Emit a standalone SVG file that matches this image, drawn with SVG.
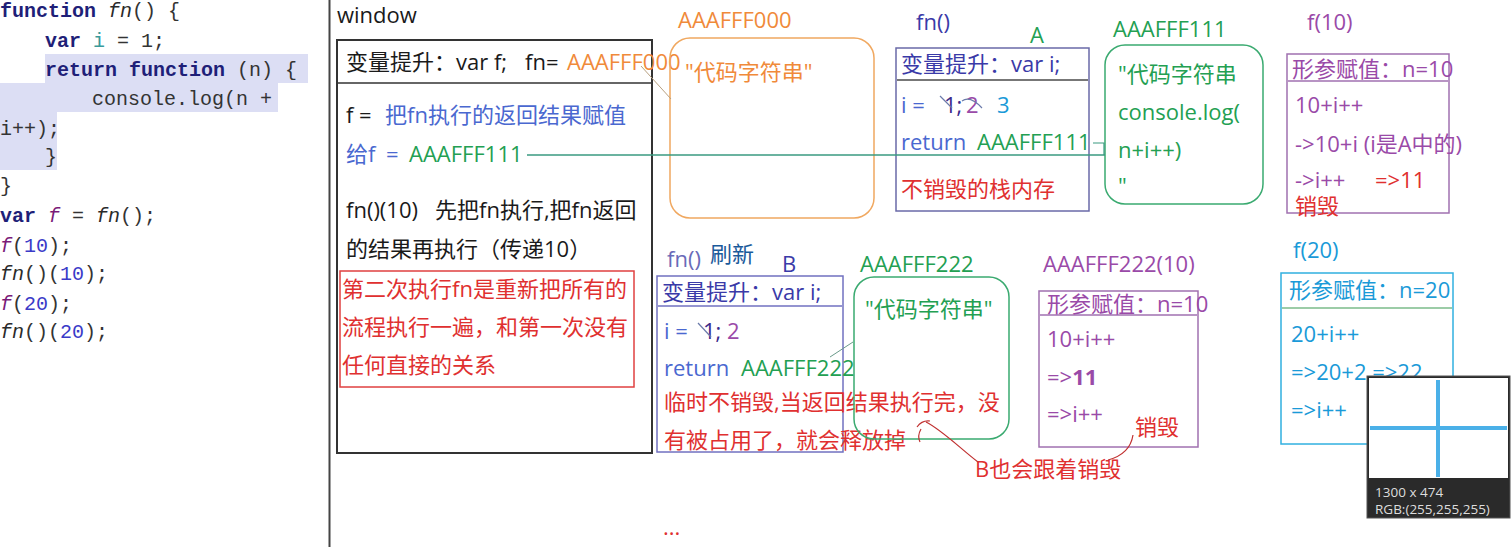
<svg xmlns="http://www.w3.org/2000/svg" width="1512" height="547" viewBox="0 0 1512 547">
<style>
  .code{font-family:"Liberation Mono","DejaVu Sans Mono",monospace;font-size:20px;fill:#333}
  .kw{font-weight:bold;fill:#1f1f78}
  .it{font-style:italic;fill:#2a2a2a}
  .fv{font-style:italic;fill:#7a1a78}
  .num{fill:#3a3ac8}
  .iv{fill:#3a9a9a}
  .t{font-family:"Open Sans","Noto Sans CJK SC",sans-serif;font-size:22px}
  .box{fill:none}
  .blk{fill:#1a1a1a}
  .org{fill:#f08a3a}
  .grn{fill:#23a052}
  .nav{fill:#3a3aa8}
  .blu{fill:#4a68d0}
  .pur{fill:#9a4aa8}
  .red{fill:#e03030}
  .cyn{fill:#1a9ad8}
</style>

<rect width="1512" height="547" fill="#ffffff"/>

<!-- code panel -->
<g id="code">
  <path d="M45 54 H308 V83 H278 V112 H57 V170 H0 V83 H45 Z" fill="#dcdef4"/>
  <text class="code" x="0" y="17"><tspan class="kw">function</tspan> <tspan class="it">fn</tspan>() {</text>
  <text class="code" x="45" y="47"><tspan class="kw">var</tspan> <tspan class="iv">i</tspan> = 1;</text>
  <text class="code" x="45" y="76"><tspan class="kw">return</tspan> <tspan class="kw">function</tspan> (n) {</text>
  <text class="code" x="92" y="105">console.log(n +</text>
  <text class="code" x="0" y="135">i++);</text>
  <text class="code" x="45" y="163">}</text>
  <text class="code" x="0" y="192">}</text>
  <text class="code" x="0" y="222"><tspan class="kw">var</tspan> <tspan class="fv">f</tspan> = <tspan class="it">fn</tspan>();</text>
  <text class="code" x="0" y="252"><tspan class="fv">f</tspan>(<tspan class="num">10</tspan>);</text>
  <text class="code" x="0" y="280"><tspan class="it">fn</tspan>()(<tspan class="num">10</tspan>);</text>
  <text class="code" x="0" y="310"><tspan class="fv">f</tspan>(<tspan class="num">20</tspan>);</text>
  <text class="code" x="0" y="338"><tspan class="it">fn</tspan>()(<tspan class="num">20</tspan>);</text>
</g>
<line x1="329.5" y1="0" x2="329.5" y2="547" stroke="#444" stroke-width="2"/>

<!-- window -->
<g id="window">
  <text class="t blk" x="337" y="23">window</text>
  <rect class="box" x="337" y="40" width="315" height="413" stroke="#333" stroke-width="2"/>
  <line x1="338" y1="83" x2="651" y2="83" stroke="#333" stroke-width="1.5"/>
  <text class="t blk" x="346" y="70">变量提升：var f;<tspan x="525">fn=</tspan><tspan x="567" class="org">AAAFFF000</tspan></text>
  <text class="t blk" x="346" y="123">f =<tspan x="385" class="blu">把fn执行的返回结果赋值</tspan></text>
  <text class="t blu" x="346" y="162">给f<tspan x="386">=</tspan><tspan x="409" class="grn">AAAFFF111</tspan></text>
  <text class="t blk" x="346" y="218">fn()(10)<tspan x="435">先把fn执行,把fn返回</tspan></text>
  <text class="t blk" x="346" y="257">的结果再执行（传递10）</text>
  <rect class="box" x="340" y="271" width="294" height="116" stroke="#e04040" stroke-width="1.5"/>
  <text class="t red" x="342" y="297">第二次执行fn是重新把所有的</text>
  <text class="t red" x="342" y="335">流程执行一遍，和第一次没有</text>
  <text class="t red" x="342" y="373">任何直接的关系</text>
</g>

<!-- AAAFFF000 heap -->
<g id="heap000">
  <text class="t org" x="678" y="28">AAAFFF000</text>
  <rect class="box" x="670" y="38" width="204" height="180" rx="20" stroke="#f0a860" stroke-width="1.5"/>
  <text class="t org" x="685" y="80">"代码字符串"</text>
</g>

<!-- fn() stack A -->
<g id="stackA">
  <text class="t nav" x="916" y="30">fn()</text>
  <text class="t grn" x="1030" y="43">A</text>
  <rect class="box" x="896" y="48" width="193" height="163" stroke="#6a6aa8" stroke-width="1.5"/>
  <line x1="897" y1="80" x2="1088" y2="80" stroke="#777" stroke-width="2"/>
  <text class="t nav" x="901" y="72">变量提升：var i;</text>
  <text class="t blu" x="901" y="113">i =<tspan x="944" fill="#3a2a8a">1;</tspan><tspan x="966" class="pur">2</tspan><tspan x="997" class="cyn">3</tspan></text>
  <path d="M940 96 L952 108 M962 101 Q970 95 982 108" fill="none" stroke="#6a7aaa" stroke-width="1.2"/>
  <text class="t blu" x="901" y="150">return<tspan x="977" class="grn">AAAFFF111</tspan></text>
  <text class="t red" x="901" y="197">不销毁的栈内存</text>
</g>

<!-- AAAFFF111 heap -->
<g id="heap111">
  <text class="t grn" x="1113" y="37">AAAFFF111</text>
  <rect class="box" x="1105" y="45" width="158" height="159" rx="20" stroke="#3aaa70" stroke-width="1.5"/>
  <text class="t grn" x="1118" y="82">"代码字符串</text>
  <text class="t grn" x="1118" y="120">console.log(</text>
  <text class="t grn" x="1118" y="158">n+i++)</text>
  <text class="t grn" x="1118" y="194">"</text>
</g>

<!-- f(10) -->
<g id="f10">
  <text class="t pur" x="1307" y="30">f(10)</text>
  <rect class="box" x="1287" y="54" width="162" height="159" stroke="#a070b0" stroke-width="1.5"/>
  <line x1="1288" y1="81" x2="1448" y2="81" stroke="#a070b0" stroke-width="1.5"/>
  <text class="t pur" x="1292" y="77">形参赋值：n=10</text>
  <text class="t pur" x="1295" y="113">10+i++</text>
  <text class="t pur" x="1295" y="152">->10+i (i是A中的)</text>
  <text class="t pur" x="1295" y="188">->i++<tspan x="1375" class="red">=>11</tspan></text>
  <text class="t red" x="1295" y="214">销毁</text>
</g>

<!-- fn() stack B -->
<g id="stackB">
  <text class="t" x="667" y="267" fill="#6a6ab8" font-size="20">fn()</text>
  <text class="t" x="710" y="262" fill="#1a5a9a" font-size="14">刷新</text>
  <text class="t nav" x="782" y="272" font-size="20">B</text>
  <rect class="box" x="657" y="276" width="186" height="176" stroke="#7070c0" stroke-width="1.5"/>
  <line x1="658" y1="306" x2="842" y2="306" stroke="#7070c0" stroke-width="1.5"/>
  <text class="t nav" x="662" y="300">变量提升：var i;</text>
  <text class="t blu" x="664" y="339">i =<tspan x="703" fill="#3a2a8a">1;</tspan><tspan x="727" class="pur">2</tspan></text>
  <path d="M698 323 L711 337" fill="none" stroke="#6a7aaa" stroke-width="1.2"/>
  <text class="t blu" x="664" y="376">return<tspan x="741" class="grn">AAAFFF222</tspan></text>
  <text class="t red" x="664" y="410">临时不销毁,当返回结果执行完，没</text>
  <text class="t red" x="664" y="448">有被占用了，就会释放掉</text>
</g>

<!-- AAAFFF222 heap -->
<g id="heap222">
  <text class="t grn" x="860" y="272">AAAFFF222</text>
  <rect class="box" x="854" y="277" width="155" height="162" rx="20" stroke="#3aaa70" stroke-width="1.5"/>
  <text class="t grn" x="865" y="317">"代码字符串"</text>
</g>

<!-- AAAFFF222(10) -->
<g id="f222_10">
  <text class="t pur" x="1043" y="272">AAAFFF222(10)</text>
  <rect class="box" x="1039" y="291" width="159" height="156" stroke="#a070b0" stroke-width="1.5"/>
  <line x1="1040" y1="315" x2="1197" y2="315" stroke="#a070b0" stroke-width="1.5"/>
  <text class="t pur" x="1047" y="312">形参赋值：n=10</text>
  <text class="t pur" x="1047" y="347">10+i++</text>
  <text class="t pur" x="1047" y="385">=><tspan font-weight="bold">11</tspan></text>
  <text class="t pur" x="1047" y="422">=>i++</text>
  <text class="t red" x="1135" y="435">销毁</text>
</g>

<!-- f(20) -->
<g id="f20">
  <text class="t cyn" x="1293" y="258">f(20)</text>
  <rect class="box" x="1281" y="273" width="172" height="171" stroke="#30b0e0" stroke-width="1.5"/>
  <line x1="1282" y1="308" x2="1452" y2="308" stroke="#3a9a50" stroke-width="1.2"/>
  <text class="t cyn" x="1289" y="298">形参赋值：n=20</text>
  <text class="t cyn" x="1291" y="342">20+i++</text>
  <text class="t cyn" x="1291" y="380">=>20+2 =>22</text>
  <text class="t cyn" x="1291" y="418">=>i++</text>
</g>

<!-- note -->
<g id="note">
  <text class="t red" x="975" y="477">B也会跟着销毁</text>
  <text class="t red" x="663" y="535" font-size="16">...</text>
</g>

<!-- connectors -->
<g id="connectors" fill="none">
  <line x1="527" y1="155" x2="1105" y2="155" stroke="#3a9a80" stroke-width="1.5"/>
  <path d="M1093 143 L1104 143 L1104 155" stroke="#3a9a80" stroke-width="1.2"/>
  <line x1="641" y1="66" x2="671" y2="99" stroke="#b8a080" stroke-width="1"/>
  <line x1="830" y1="357" x2="853" y2="342" stroke="#6a9a8a" stroke-width="1"/>
  <path d="M978 462 C962 450 942 430 926 422" stroke="#c03030" stroke-width="1.2"/>
  <path d="M917 427 Q922 420 930 421 M921 429 Q917 436 920 442" stroke="#c03030" stroke-width="1.2"/>
  <path d="M1133 435 C1131 448 1123 456 1108 460" stroke="#c03030" stroke-width="1.2"/>
</g>

<!-- tooltip overlay -->
<g id="tooltip">
  <rect x="1367" y="376" width="143" height="142" fill="#2a2a2a" stroke="#555" stroke-width="1"/>
  <rect x="1369" y="378" width="139" height="100" fill="#ffffff"/>
  <line x1="1438" y1="380" x2="1438" y2="477" stroke="#4ab0e8" stroke-width="4"/>
  <line x1="1370" y1="428" x2="1507" y2="428" stroke="#4ab0e8" stroke-width="4"/>
  <text x="1375" y="497" font-family="Open Sans,sans-serif" font-size="13.5" fill="#dddddd">1300 x 474</text>
  <text x="1375" y="514" font-family="Open Sans,sans-serif" font-size="13.5" fill="#dddddd">RGB:(255,255,255)</text>
</g>
</svg>
